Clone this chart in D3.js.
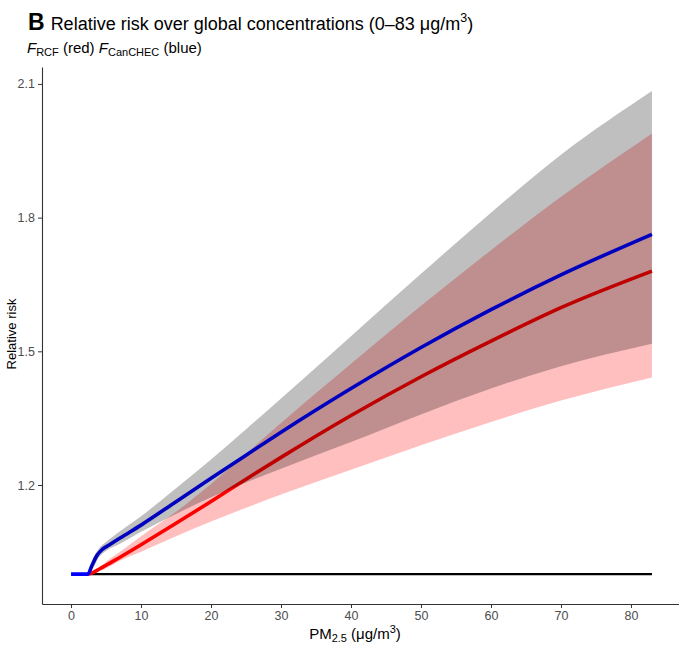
<!DOCTYPE html>
<html>
<head>
<meta charset="utf-8">
<script src="https://cdn.jsdelivr.net/npm/d3@7"></script>
<style>
  body { margin: 0; background: #fff; }
  svg { font-family: "Liberation Sans", Arial, sans-serif; display: block; }
  .axis text { fill: #4d4d4d; font-size: 12.5px; }
  .axis line, .axis path { stroke: #333; }
</style>
</head>
<body>
<div id="chart"></div>
<script>
// values (PM2.5 in ug/m3, relative risk)
var blueX = [0, 2.4, 3, 3.7, 4.5, 5.5, 7, 10, 15, 20, 25, 30, 40, 50, 60, 70, 83];
var blueRR = [1, 1, 1.02, 1.042, 1.056, 1.066, 1.081, 1.11, 1.1625, 1.215, 1.267, 1.3185, 1.4165, 1.5085, 1.5935, 1.6715, 1.7625];

var redX = [2.4, 3, 4, 5, 7, 10, 15, 20, 25, 30, 40, 50, 60, 70, 83];
var redRR = [1, 1.003, 1.011, 1.02, 1.038, 1.066, 1.114, 1.163, 1.213, 1.262, 1.356, 1.443, 1.523, 1.598, 1.68];

var bandX = [2.4, 3, 4, 5, 7, 10, 15, 20, 25, 30, 40, 50, 60, 70, 83];
var grayLo = [1, 1.01, 1.038, 1.052, 1.068, 1.095, 1.135, 1.1725, 1.2055, 1.2365, 1.2965, 1.3585, 1.4165, 1.4665, 1.5172];
var grayHi = [1, 1.03, 1.058, 1.072, 1.096, 1.13, 1.1925, 1.2575, 1.325, 1.394, 1.534, 1.674, 1.811, 1.941, 2.084];
var redLo = [1, 1.002, 1.007, 1.013, 1.03, 1.05, 1.085, 1.118, 1.149, 1.1785, 1.2345, 1.2895, 1.3415, 1.3895, 1.4415];
var redHi = [1, 1.005, 1.015, 1.028, 1.05, 1.085, 1.14, 1.2025, 1.27, 1.339, 1.472, 1.602, 1.727, 1.847, 1.989];

var refX = [2.4, 83];
var refRR = [1, 1];

var xTicks = [0, 10, 20, 30, 40, 50, 60, 70, 80];
var yTicks = [1.2, 1.5, 1.8, 2.1];

var width = 679, height = 645;

var svg = d3.select("#chart").append("svg")
  .attr("width", width)
  .attr("height", height);

var x = d3.scaleLinear().domain([-4.15, 87.15]).range([42, 681]);
var y = d3.scaleLinear().domain([0.933, 2.138]).range([604, 67]);

function pts(xs, ys) {
  return xs.map(function(v, i) { return {x: v, y: ys[i]}; });
}
function band(lo, hi) {
  return bandX.map(function(v, i) { return {x: v, lo: lo[i], hi: hi[i]}; });
}

var line = d3.line()
  .x(function(d) { return x(d.x); })
  .y(function(d) { return y(d.y); })
  .curve(d3.curveMonotoneX);

var area = d3.area()
  .x(function(d) { return x(d.x); })
  .y0(function(d) { return y(d.lo); })
  .y1(function(d) { return y(d.hi); })
  .curve(d3.curveMonotoneX);

var plot = svg.append("g");

// RCF ribbon (pink)
plot.append("path")
  .attr("d", area(band(redLo, redHi)))
  .attr("fill", "rgb(255,0,0)")
  .attr("fill-opacity", 0.25);

// reference line at RR = 1
plot.append("path")
  .attr("d", line(pts(refX, refRR)))
  .attr("fill", "none")
  .attr("stroke", "#000")
  .attr("stroke-width", 2.4);

plot.append("path")
  .attr("d", line(pts(redX, redRR)))
  .attr("fill", "none")
  .attr("stroke", "#ff0000")
  .attr("stroke-width", 3.6);

plot.append("path")
  .attr("d", line(pts(blueX, blueRR)))
  .attr("fill", "none")
  .attr("stroke", "#0000ff")
  .attr("stroke-width", 3.6);

// CanCHEC ribbon (grey) drawn over the lines
plot.append("path")
  .attr("d", area(band(grayLo, grayHi)))
  .attr("fill", "#000")
  .attr("fill-opacity", 0.25);

// axes
var xAxis = d3.axisBottom(x).tickValues(xTicks).tickSize(4).tickSizeOuter(0).tickPadding(3);
var yAxis = d3.axisLeft(y).tickValues(yTicks).tickFormat(d3.format(".1f")).tickSize(4).tickSizeOuter(0).tickPadding(3);

svg.append("g").attr("class", "axis")
  .attr("transform", "translate(0,604)")
  .call(xAxis);

svg.append("g").attr("class", "axis")
  .attr("transform", "translate(42,0)")
  .call(yAxis);

svg.selectAll(".axis path.domain").attr("stroke", "#000").attr("stroke-width", 1.1);

// axis titles
var xt = svg.append("text")
  .attr("x", 355)
  .attr("y", 639)
  .attr("text-anchor", "middle")
  .style("font-size", "15px")
  .attr("fill", "#000");
xt.append("tspan").text("PM");
xt.append("tspan").attr("dy", 3).style("font-size", "11px").text("2.5");
xt.append("tspan").attr("dy", -3).text(" (\u03bcg/m");
xt.append("tspan").attr("dy", -6).style("font-size", "11px").text("3");
xt.append("tspan").attr("dy", 6).text(")");

svg.append("text")
  .attr("transform", "translate(16,334) rotate(-90)")
  .attr("text-anchor", "middle")
  .style("font-size", "13px")
  .attr("fill", "#000")
  .text("Relative risk");

// title
var title = svg.append("text")
  .attr("x", 28)
  .attr("y", 30)
  .attr("fill", "#000");
title.append("tspan").style("font-size", "23px").style("font-weight", "bold").text("B");
title.append("tspan").style("font-size", "18px").attr("dx", 6).text("Relative risk over global concentrations (0\u201383 \u03bcg/m");
title.append("tspan").style("font-size", "12.5px").attr("dy", -8).text("3");
title.append("tspan").style("font-size", "18px").attr("dy", 8).text(")");

// subtitle
var sub = svg.append("text")
  .attr("x", 27)
  .attr("y", 53)
  .style("font-size", "15px")
  .attr("fill", "#000");
sub.append("tspan").style("font-style", "italic").text("F");
sub.append("tspan").attr("dy", 3).style("font-size", "11px").text("RCF");
sub.append("tspan").attr("dy", -3).text(" (red) ");
sub.append("tspan").style("font-style", "italic").text("F");
sub.append("tspan").attr("dy", 3).style("font-size", "11px").text("CanCHEC");
sub.append("tspan").attr("dy", -3).text(" (blue)");
</script>
</body>
</html>
